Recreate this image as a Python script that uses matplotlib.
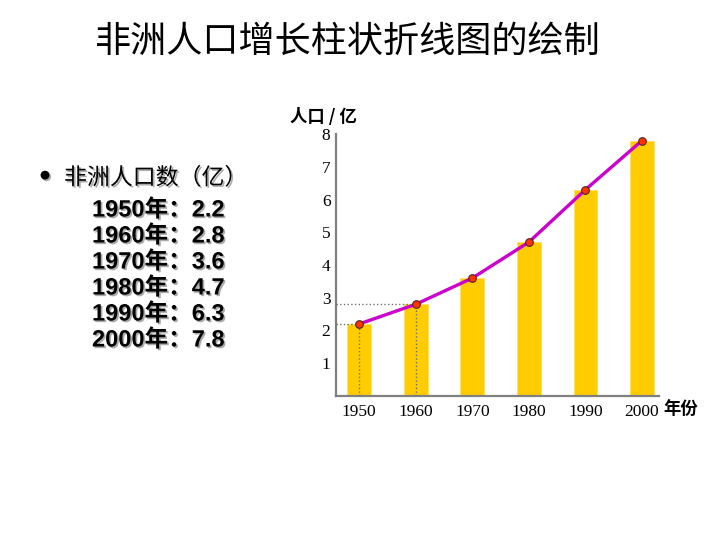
import matplotlib
matplotlib.use("Agg")
import matplotlib.pyplot as plt
import matplotlib.patheffects as pe

plt.rcParams['font.family'] = ['Noto Sans CJK SC', 'DejaVu Sans']

years = ["1950", "1960", "1970", "1980", "1990", "2000"]
pop = [2.2, 2.8, 3.6, 4.7, 6.3, 7.8]
yticks = [1, 2, 3, 4, 5, 6, 7, 8]

fig = plt.figure(figsize=(7.2, 5.4), dpi=100)
ax = fig.add_axes([336/720, 1-396/540, 323/720, 262/540])

x = list(range(len(years)))
ax.bar(x, pop, width=0.42, color="#FFCC00", edgecolor="#FFE066", linewidth=0.6, zorder=2)
ax.plot(x, pop, color="#CC00CC", lw=2.4, zorder=3)
ax.plot(x, pop, "o", ms=5.5, mfc="#FF3300", mec="#552222", mew=0.8, zorder=4)

# dotted guides for the first two points
for i in range(2):
    ax.plot([-0.41, x[i]], [pop[i], pop[i]], ls=":", color="#707070", lw=1, zorder=3)
    ax.plot([x[i], x[i]], [0, pop[i]], ls=":", color="#707070", lw=1, zorder=3)

ax.set_xlim(-0.41, 5.30)
ax.set_ylim(0, 8)
for s in ["top", "right"]:
    ax.spines[s].set_visible(False)
for s in ["left", "bottom"]:
    ax.spines[s].set_color("#808080")
    ax.spines[s].set_linewidth(1.6)
ax.set_yticks(yticks)
ax.set_yticklabels([str(v) for v in yticks], family="Liberation Serif", fontsize=12.5)
ax.set_xticks(x)
ax.set_xticklabels(years, family="Liberation Serif", fontsize=12.5)
ax.tick_params(axis="y", length=0, pad=4)
ax.tick_params(axis="x", direction="in", length=3, width=1, color="white", pad=6)

fig.text(290/720, 1-117/540, "人口 / 亿", fontsize=12.5, weight="bold", va="center", ha="left")
fig.text(663/720, 1-410/540, "年份", fontsize=12.5, weight="bold", va="center", ha="left")

fig.text(348/720, 1-42/540, "非洲人口增长柱状折线图的绘制", fontsize=26, weight="medium",
         ha="center", va="center")

shadow = [pe.withSimplePatchShadow(offset=(1.2, -1.2), shadow_rgbFace="#888888", alpha=0.7)]
fig.text(36/720, 1-178/540, "•", fontsize=22, family="DejaVu Sans", va="center", ha="left",
         path_effects=shadow)
fig.text(64/720, 1-178/540, "非洲人口数（亿）", fontsize=16.5, va="center", ha="left", path_effects=shadow)
for k, (yr, v) in enumerate(zip(years, pop)):
    fig.text(92/720, 1-(210+26*k)/540, f"{yr}年：{v}", fontsize=17, weight="bold",
             family=["Liberation Sans", "Noto Sans CJK SC"], va="center", ha="left",
             path_effects=shadow)

fig.savefig("out.png", dpi=100)
